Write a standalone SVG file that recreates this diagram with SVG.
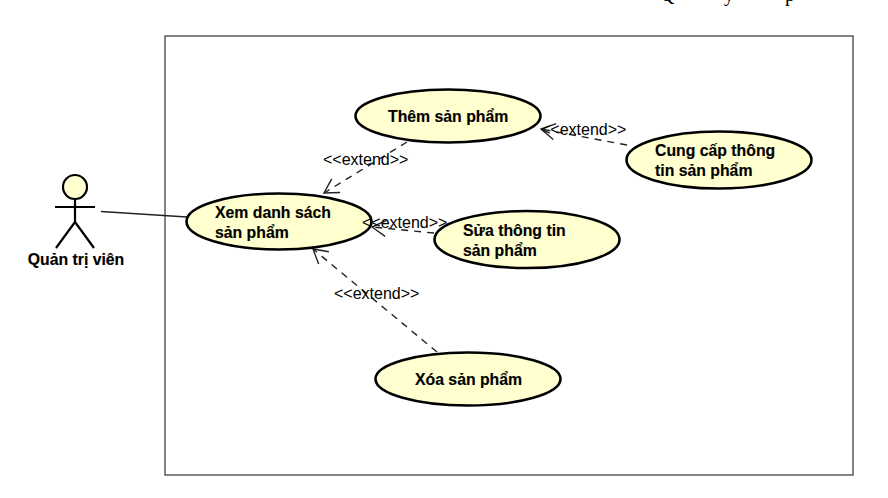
<svg xmlns="http://www.w3.org/2000/svg" width="888" height="498" viewBox="0 0 888 498">
<defs>
<marker id="open" viewBox="0 0 20 20" refX="15" refY="10" markerWidth="20" markerHeight="20" markerUnits="userSpaceOnUse" orient="auto"><path d="M1 2L15 10L1 18" fill="none" stroke="#222" stroke-width="1.4"/></marker>
</defs>
<style>
text{font-family:"Liberation Sans",Arial,sans-serif;fill:#000}
.b{font-weight:bold;font-size:15.8px;stroke:#000;stroke-width:.15px}
.l{font-size:16px}
.uc ellipse{fill:#ffffcf;stroke:#000;stroke-width:2.6}
.d{fill:none;stroke:#222;stroke-width:1.4;stroke-dasharray:7 6;marker-end:url(#open)}
</style>
<rect width="888" height="498" fill="#fff"/>
<text x="660" y="1" style="font-family:'Liberation Serif',serif;font-size:20px">Q</text>
<text x="724" y="1" style="font-family:'Liberation Serif',serif;font-size:20px">y</text>
<text x="785" y="1" style="font-family:'Liberation Serif',serif;font-size:20px">p</text>
<rect id="boundary" x="165" y="36" width="688" height="439" fill="none" stroke="#444" stroke-width="1.3"/>
<g id="connectors">
<line x1="101" y1="211.500" x2="187" y2="217" stroke="#222" stroke-width="1.3"/>
<path class="d" d="M407 142L324 193"/>
<path class="d" d="M627 145L541 129"/>
<path class="d" d="M434 233L372 227"/>
<path class="d" d="M437 352L313 249"/>
</g>
<g id="actor" fill="none" stroke="#000" stroke-width="2.200">
<circle cx="75" cy="187" r="12" fill="#ffffcf"/>
<path d="M75 199V222M55 207H95M75 222L56 248M75 222L94 248"/>
<text class="b" x="76" y="264.500" text-anchor="middle" fill="#000" stroke-width=".15">Quản trị viên</text>
</g>
<g id="uc-xem" class="uc"><ellipse cx="279" cy="221.500" rx="92.500" ry="28"/><text class="b" x="215" y="217.500">Xem danh sách</text><text class="b" x="215" y="237.500">sản phẩm</text></g>
<g id="uc-them" class="uc"><ellipse cx="448" cy="116" rx="92.500" ry="26.500"/><text class="b" x="388" y="121.500">Thêm sản phẩm</text></g>
<g id="uc-cung" class="uc"><ellipse cx="719" cy="160" rx="92.500" ry="28.500"/><text class="b" x="655" y="156">Cung cấp thông</text><text class="b" x="655" y="176">tin sản phẩm</text></g>
<g id="uc-sua" class="uc"><ellipse cx="527" cy="239.500" rx="92.500" ry="28.500"/><text class="b" x="463" y="235.500">Sửa thông tin</text><text class="b" x="463" y="255.500">sản phẩm</text></g>
<g id="uc-xoa" class="uc"><ellipse cx="468" cy="379" rx="92.500" ry="26.500"/><text class="b" x="415" y="384.500">Xóa sản phẩm</text></g>
<g id="labels">
<text class="l" x="323" y="164.500">&lt;&lt;extend&gt;&gt;</text>
<text class="l" x="541" y="134.500">&lt;&lt;extend&gt;&gt;</text>
<text class="l" x="362" y="227.500">&lt;&lt;extend&gt;&gt;</text>
<text class="l" x="334" y="298.500">&lt;&lt;extend&gt;&gt;</text>
</g>
</svg>
